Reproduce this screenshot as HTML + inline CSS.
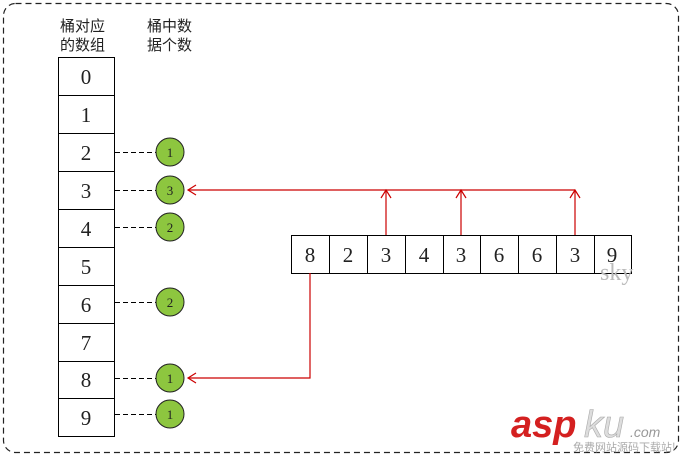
<!DOCTYPE html>
<html><head><meta charset="utf-8"><style>
body{margin:0;background:#fff;}
svg{display:block;}
</style></head><body>
<svg width="682" height="456" xmlns="http://www.w3.org/2000/svg" font-family="Liberation Serif, serif">
<rect x="3.5" y="3.5" width="675" height="449" rx="12" fill="none" stroke="#222" stroke-dasharray="6,4" stroke-width="1.2"/>
<g font-family="Liberation Sans, Noto Sans CJK SC, sans-serif" font-size="15" fill="#222">
<text x="60" y="31">桶对应</text><text x="60" y="50">的数组</text>
<text x="147" y="31">桶中数</text><text x="147" y="50">据个数</text>
</g>
<g stroke="#000" stroke-width="1" fill="#fff">
<rect x="58.5" y="57.5" width="56" height="379"/>
<line x1="58" y1="95.5" x2="115" y2="95.5"/><line x1="58" y1="133.5" x2="115" y2="133.5"/>
<line x1="58" y1="171.5" x2="115" y2="171.5"/><line x1="58" y1="209.5" x2="115" y2="209.5"/>
<line x1="58" y1="247.5" x2="115" y2="247.5"/><line x1="58" y1="285.5" x2="115" y2="285.5"/>
<line x1="58" y1="323.5" x2="115" y2="323.5"/><line x1="58" y1="361.5" x2="115" y2="361.5"/>
<line x1="58" y1="398.5" x2="115" y2="398.5"/>
<rect x="291.5" y="235.5" width="340" height="38"/>
<line x1="329.5" y1="235" x2="329.5" y2="273"/><line x1="367.5" y1="235" x2="367.5" y2="273"/>
<line x1="405.5" y1="235" x2="405.5" y2="273"/><line x1="443.5" y1="235" x2="443.5" y2="273"/>
<line x1="480.5" y1="235" x2="480.5" y2="273"/><line x1="518.5" y1="235" x2="518.5" y2="273"/>
<line x1="556.5" y1="235" x2="556.5" y2="273"/><line x1="594.5" y1="235" x2="594.5" y2="273"/>
</g>
<g font-size="21" fill="#222" text-anchor="middle">
<text x="86" y="84">0</text><text x="86" y="122">1</text><text x="86" y="160">2</text><text x="86" y="198">3</text>
<text x="86" y="236">4</text><text x="86" y="274">5</text><text x="86" y="312">6</text><text x="86" y="350">7</text>
<text x="86" y="387">8</text><text x="86" y="425">9</text>
<text x="310" y="262">8</text><text x="348" y="262">2</text><text x="386" y="262">3</text><text x="424" y="262">4</text>
<text x="461" y="262">3</text><text x="499" y="262">6</text><text x="537" y="262">6</text><text x="575" y="262">3</text><text x="612" y="262">9</text>
</g>
<text x="600" y="280" font-size="24" fill="#bbb">sky</text>
<g stroke="#000" stroke-dasharray="5,3">
<line x1="115" y1="152.5" x2="156" y2="152.5"/><line x1="115" y1="190.5" x2="156" y2="190.5"/>
<line x1="115" y1="227.5" x2="156" y2="227.5"/><line x1="115" y1="302.5" x2="156" y2="302.5"/>
<line x1="115" y1="378.5" x2="156" y2="378.5"/><line x1="115" y1="414.5" x2="156" y2="414.5"/>
</g>
<g fill="#8dc63f" stroke="#222">
<circle cx="170" cy="152" r="14"/><circle cx="170" cy="190" r="14"/><circle cx="170" cy="227" r="14"/>
<circle cx="170" cy="302" r="14"/><circle cx="170" cy="378" r="14"/><circle cx="170" cy="414" r="14"/>
</g>
<g font-size="13" fill="#222" text-anchor="middle">
<text x="170" y="157">1</text><text x="170" y="195">3</text><text x="170" y="232">2</text>
<text x="170" y="307">2</text><text x="170" y="383">1</text><text x="170" y="419">1</text>
</g>
<g stroke="#c00" fill="none" stroke-width="1.2">
<polyline points="575,190 188,190"/>
<polyline points="196,185 188,190 196,195"/>
<line x1="386" y1="235" x2="386" y2="190"/><polyline points="381,198 386,190 391,198"/>
<line x1="461" y1="235" x2="461" y2="190"/><polyline points="456,198 461,190 466,198"/>
<line x1="575" y1="235" x2="575" y2="190"/><polyline points="570,198 575,190 580,198"/>
<polyline points="310,273 310,378 188,378"/><polyline points="196,373 188,378 196,383"/>
</g>
<text x="511" y="437" font-family="Liberation Sans, sans-serif" font-weight="bold" font-style="italic" font-size="38" fill="#d42020">asp</text>
<text x="584" y="437" font-family="Liberation Sans, sans-serif" font-style="italic" font-size="38" fill="#ddd" stroke="#aaa" stroke-width="0.6">ku</text>
<text x="630" y="437" font-family="Liberation Sans, sans-serif" font-style="italic" font-size="14" fill="#999">.com</text>
<text x="573" y="451" font-family="Noto Sans CJK SC, sans-serif" font-size="11" fill="#aaa">免费网站源码下载站!</text>
</svg>
</body></html>
